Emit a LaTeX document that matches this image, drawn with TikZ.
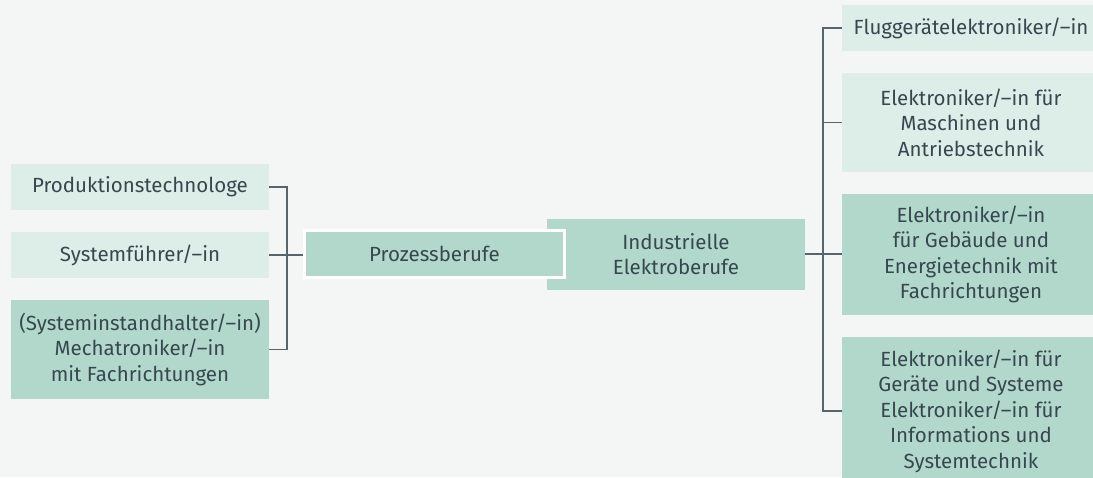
\documentclass[tikz,border=0pt]{standalone}
\usepackage{fontspec}
\setmainfont{Fira Sans}
\definecolor{bg}{HTML}{F4F6F5}
\definecolor{lightbox}{HTML}{DDEEE8}
\definecolor{darkbox}{HTML}{B2D8CC}
\definecolor{txt}{HTML}{37474F}
\definecolor{linec}{HTML}{56656C}
\pgfdeclarelayer{backdrop}
\pgfdeclarelayer{connectors}
\pgfsetlayers{backdrop,connectors,main}
\tikzset{
  box/.style={inner sep=0pt, align=center, text=txt, minimum width=258pt,
    font=\fontsize{20.5}{25.5}\selectfont},
  lbox/.style={box, fill=lightbox},
  dbox/.style={box, fill=darkbox},
  conn/.style={draw=linec, line width=1.5pt},
}
\begin{document}
\begin{tikzpicture}[x=1pt,y=-1pt]
\clip (0,0) rectangle (1093,477);
\begin{pgfonlayer}{backdrop}
\fill[bg] (0,0) rectangle (1093,477);
\end{pgfonlayer}
% left column
\node[lbox, minimum height=46pt] (L1) at (140,187) {Produktionstechnologe};
\node[lbox, minimum height=46pt] (L2) at (140,255) {Systemführer/–in};
\node[dbox, minimum height=99pt] (L3) at (140,349.5) {(Systeminstandhalter/–in)\\Mechatroniker/–in\\mit Fachrichtungen};
% middle
\node[dbox, minimum height=71pt] (Indus) at (676,254) {Industrielle\\Elektroberufe};
\node[dbox, draw=white, line width=3pt, minimum width=260pt, minimum height=47pt] (Proz) at (434.5,254) {Prozessberufe};
% right column
\node[lbox, minimum height=46pt] (R1) at (971,28) {Fluggerätelektroniker/–in};
\node[lbox, minimum height=99pt] (R2) at (971,122.5) {Elektroniker/–in für\\Maschinen und\\Antriebstechnik};
\node[dbox, minimum height=121pt] (R3) at (971,254.5) {Elektroniker/–in\\für Gebäude und\\Energietechnik mit\\Fachrichtungen};
\node[dbox, minimum height=148pt] (R4) at (971,411) {Elektroniker/–in für\\Geräte und Systeme\\Elektroniker/–in für\\Informations und\\Systemtechnik};
% connectors
\begin{pgfonlayer}{connectors}
\coordinate (lbus) at (287,254);
\coordinate (rbus) at (823,254);
\draw[conn] (L1.east) -| (lbus) |- (L3.east);
\draw[conn] (L2.east) -- (L2.east -| Proz.west);
\draw[conn] (R1.west) -| (rbus) |- (R4.west);
\draw[conn] (R2.west) -- (R2.west -| rbus);
\draw[conn] (Indus.east) -- (Indus.east -| R3.west);
\end{pgfonlayer}
\end{tikzpicture}
\end{document}
